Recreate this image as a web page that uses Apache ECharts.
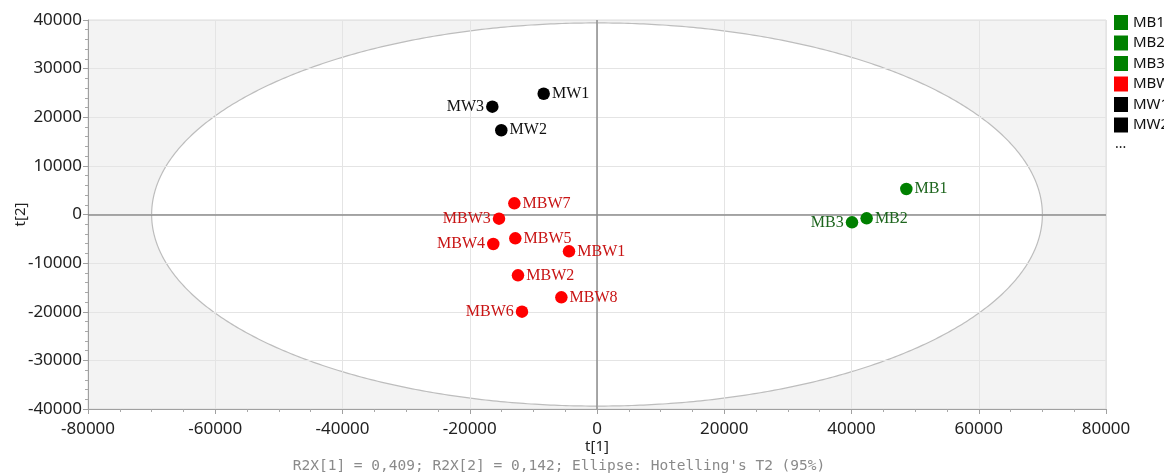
<!DOCTYPE html>
<html><head><meta charset="utf-8">
<script src="https://cdn.jsdelivr.net/npm/echarts@6/dist/echarts.min.js"></script>
<style>html,body{margin:0;padding:0;background:#fff}#c{width:1164px;height:476px}</style>
</head><body><div id="c"></div>
<script>
// ---- data ----
const mbNames = ['MB1', 'MB2', 'MB3'];
const mbX = [48620, 42380, 40080];
const mbY = [5240, -790, -1610];
const mbwNames = ['MBW1', 'MBW2', 'MBW3', 'MBW4', 'MBW5', 'MBW6', 'MBW7', 'MBW8'];
const mbwX = [-4400, -12420, -15400, -16300, -12840, -11790, -12990, -5600];
const mbwY = [-7570, -12510, -860, -6070, -4900, -19990, 2300, -17030];
const mwNames = ['MW1', 'MW2', 'MW3'];
const mwX = [-8380, -15040, -16450];
const mwY = [24840, 17320, 22170];
const xTicks = [-80000, -60000, -40000, -20000, 0, 20000, 40000, 60000, 80000];
const yTicks = [-40000, -30000, -20000, -10000, 0, 10000, 20000, 30000, 40000];
const ellipseRadii = [70000, 39400];
const legendNames = ['MB1', 'MB2', 'MB3', 'MBW', 'MW1', 'MW2'];
const xName = 't[1]';
const yName = 't[2]';
const footnote = "R2X[1] = 0,409; R2X[2] = 0,142; Ellipse: Hotelling's T2 (95%)";

// ---- styles ----
const leftLabels = ['MW3', 'MBW3', 'MBW4', 'MBW6', 'MB3'];
const colors = { MB: '#008000', MBW: '#ff0000', MW: '#000000' };
const labelColors = { MB: '#1d651d', MBW: '#c81414', MW: '#111111' };

const xMin = xTicks[0], xMax = xTicks[xTicks.length - 1];
const yMin = yTicks[0], yMax = yTicks[yTicks.length - 1];

function item(name, x, y) {
  return { name: name, value: [x, y], label: { position: leftLabels.includes(name) ? 'left' : 'right' } };
}
function scatter(name, group, items, extra) {
  return Object.assign({
    name: name, type: 'scatter', symbol: 'circle', symbolSize: 12.5, z: 3,
    itemStyle: { color: colors[group], opacity: 1 },
    label: { show: true, formatter: '{b}', distance: 2, color: labelColors[group], opacity: 1,
      fontFamily: 'Liberation Serif', fontSize: 16 },
    emphasis: { disabled: true },
    data: items
  }, extra || {});
}

const series = [];
series.push({
  name: 'bg', type: 'custom', z: -1, silent: true, data: [[0, 0]],
  renderItem: function (params, api) {
    const tl = api.coord([xMin, yMax]);
    const br = api.coord([xMax, yMin]);
    const c = api.coord([0, 0]);
    const ex = api.coord([ellipseRadii[0], 0]);
    const ey = api.coord([0, ellipseRadii[1]]);
    const rx = ex[0] - c[0], ry = c[1] - ey[1];
    const pts = [];
    for (let i = 0; i <= 720; i++) {
      const t = i * Math.PI / 360;
      pts.push([c[0] + rx * Math.cos(t), c[1] + ry * Math.sin(t)]);
    }
    return { type: 'group', children: [
      { type: 'rect', shape: { x: tl[0], y: tl[1], width: br[0] - tl[0], height: br[1] - tl[1] }, style: { fill: '#f3f3f3' } },
      { type: 'polygon', shape: { points: pts }, style: { fill: '#ffffff', stroke: '#bdbdbd', lineWidth: 1.2 } }
    ] };
  }
});
mbNames.forEach((n, i) => series.push(scatter(n, 'MB', [item(n, mbX[i], mbY[i])])));
series.push(scatter('MBW', 'MBW', mbwNames.map((n, i) => item(n, mbwX[i], mbwY[i])), {
  markLine: {
    silent: true, z: 1, symbol: 'none', animation: false,
    label: { show: false },
    lineStyle: { color: '#8c8c8c', width: 1.5, type: 'solid', opacity: 1 },
    emphasis: { disabled: true },
    data: [{ xAxis: 0 }, { yAxis: 0 }]
  }
}));
mwNames.forEach((n, i) => series.push(scatter(n, 'MW', [item(n, mwX[i], mwY[i])])));

const axisCommon = {
  type: 'value',
  nameLocation: 'middle',
  nameMoveOverlap: false,
  nameTextStyle: { fontFamily: 'Noto Sans', fontSize: 15, color: '#222' },
  axisLine: { show: true, onZero: false, lineStyle: { color: '#a0a0a0', width: 1 } },
  axisTick: { show: true, inside: false, length: 5, lineStyle: { color: '#a0a0a0' } },
  minorTick: { show: true, length: 3, lineStyle: { color: '#a8a8a8' } },
  splitLine: { show: true, lineStyle: { color: '#e4e4e4', width: 1 } },
  axisLabel: { fontFamily: 'Noto Sans', fontSize: 17, color: '#222', formatter: v => String(v) }
};

const option = {
  animation: false,
  backgroundColor: '#ffffff',
  grid: { left: 88, right: 58, top: 20, bottom: 67, containLabel: false, outerBoundsMode: 'none',
    show: true, borderColor: '#dcdcdc', borderWidth: 1, backgroundColor: 'transparent' },
  xAxis: Object.assign({}, axisCommon, {
    min: xMin, max: xMax, interval: xTicks[1] - xTicks[0],
    name: xName, nameGap: 30,
    minorTick: Object.assign({}, axisCommon.minorTick, { splitNumber: 4 }),
    axisLabel: Object.assign({}, axisCommon.axisLabel, { margin: 12 })
  }),
  yAxis: Object.assign({}, axisCommon, {
    min: yMin, max: yMax, interval: yTicks[1] - yTicks[0],
    name: yName, nameGap: 60, nameRotate: 90,
    minorTick: Object.assign({}, axisCommon.minorTick, { splitNumber: 5 }),
    axisLabel: Object.assign({}, axisCommon.axisLabel, { margin: 6 })
  }),
  legend: {
    data: legendNames, orient: 'vertical', left: 1109, top: 10,
    itemWidth: 14, itemHeight: 15, itemGap: 5.5, icon: 'rect', selectedMode: false,
    textStyle: { fontFamily: 'Noto Sans', fontSize: 15, color: '#111' }
  },
  graphic: [
    { type: 'text', left: 1115, top: 137, style: { text: '...', font: '14px "Noto Sans"', fill: '#222' } },
    { type: 'text', x: 559, y: 466, style: { text: footnote, font: '14.5px "DejaVu Sans Mono"', fill: '#8a8a8a', align: 'center', verticalAlign: 'middle' } }
  ],
  series: series
};
echarts.init(document.getElementById('c'), null, { renderer: 'canvas' }).setOption(option);
</script>
</body></html>
